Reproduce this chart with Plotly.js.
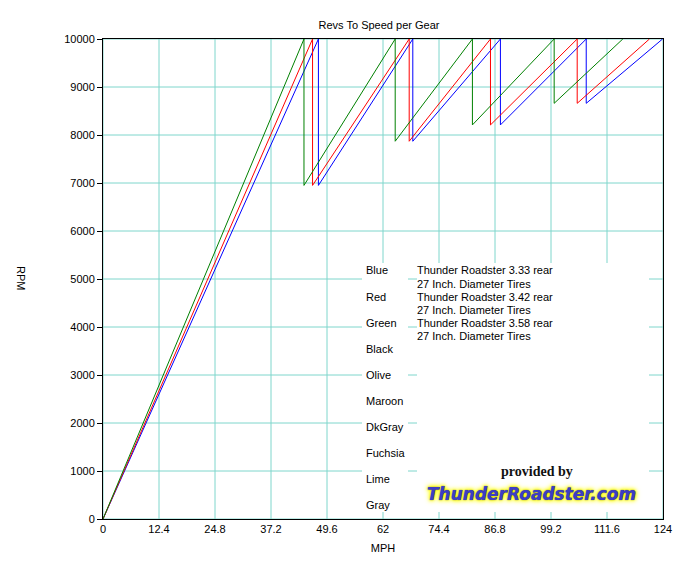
<!DOCTYPE html>
<html>
<head>
<meta charset="utf-8">
<script src="https://cdn.plot.ly/plotly-3.0.1.min.js"></script>
<style>html,body{margin:0;padding:0;background:#fff;}#chart{width:676px;height:571px;}</style>
</head>
<body>
<div id="chart"></div>
<script>
// ---- data (sawtooth vertices: MPH, RPM) ----
const blueMph  = [0, 47.7, 47.7, 68.6, 68.6, 88.0, 88.0, 107.0, 107.0, 123.9];
const blueRpm  = [0, 10000, 6950, 10000, 7870, 10000, 8210, 10000, 8660, 10000];
const redMph   = [0, 46.4, 46.4, 67.8, 67.8, 85.8, 85.8, 105.0, 105.0, 121.0];
const redRpm   = [0, 10000, 6950, 10000, 7870, 10000, 8210, 10000, 8660, 10000];
const greenMph = [0, 44.5, 44.5, 64.7, 64.7, 81.8, 81.8, 99.9, 99.9, 115.1];
const greenRpm = [0, 10000, 6950, 10000, 7870, 10000, 8210, 10000, 8660, 10000];

const xTicks = [0, 12.4, 24.8, 37.2, 49.6, 62, 74.4, 86.8, 99.2, 111.6, 124];
const xTickText = ["0", "12.4", "24.8", "37.2", "49.6", "62", "74.4", "86.8", "99.2", "111.6", "124"];
const yTicks = [0, 1000, 2000, 3000, 4000, 5000, 6000, 7000, 8000, 9000, 10000];
const yTickText = ["0", "1000", "2000", "3000", "4000", "5000", "6000", "7000", "8000", "9000", "10000"];

const colorNames = ["Blue", "Red", "Green", "Black", "Olive", "Maroon", "DkGray", "Fuchsia", "Lime", "Gray"];
const descLines = [
  "Thunder Roadster 3.33 rear", "27 Inch. Diameter Tires",
  "Thunder Roadster 3.42 rear", "27 Inch. Diameter Tires",
  "Thunder Roadster 3.58 rear", "27 Inch. Diameter Tires"
];

// ---- layout helpers (pixel -> paper) ----
const L = 103, R = 663, T = 39, B = 519;
const px = v => (v - L) / (R - L);
const py = v => (B - v) / (B - T);

const FONT = "Liberation Sans, Arial, sans-serif";
const GRID = "#7fd6cc";

const traces = [
  {x: blueMph, y: blueRpm, mode: "lines", line: {color: "#0000ff", width: 1}, name: "Blue"},
  {x: redMph, y: redRpm, mode: "lines", line: {color: "#ff0000", width: 1}, name: "Red"},
  {x: greenMph, y: greenRpm, mode: "lines", line: {color: "#008000", width: 1}, name: "Green"}
];

const annotations = [];
const rowY = [270, 297, 323, 349, 375, 401, 427, 453, 479, 505];
colorNames.forEach((n, i) => annotations.push({
  text: n, xref: "paper", yref: "paper", x: px(364), y: py(rowY[i]),
  xanchor: "left", yanchor: "middle", showarrow: false,
  font: {family: FONT, size: 11, color: "#000"}
}));
const descY = [270, 284, 297, 310, 323, 336];
descLines.forEach((t, i) => annotations.push({
  text: t, xref: "paper", yref: "paper", x: px(415), y: py(descY[i]),
  xanchor: "left", yanchor: "middle", showarrow: false,
  font: {family: FONT, size: 11, color: "#000"}
}));
annotations.push({
  text: "<b>provided by</b>", xref: "paper", yref: "paper", x: px(537), y: py(471),
  xanchor: "center", yanchor: "middle", showarrow: false,
  font: {family: "Liberation Serif, serif", size: 14, color: "#111"}
});
annotations.push({
  text: "ThunderRoadster.com", xref: "paper", yref: "paper", x: px(531), y: py(494),
  xanchor: "center", yanchor: "middle", showarrow: false,
  font: {family: "DejaVu Sans, sans-serif", size: 17, weight: 900, style: "italic", color: "#3d3dc4",
         shadow: "0 0 1px #202060, 0 0 3px #ffff00, 0 0 4px #ffff00, 0 0 5px #ffff40, 0 0 6px #ffff60"}
});
annotations.push({
  text: "RPM", xref: "paper", yref: "paper", x: px(21), y: py(278),
  xanchor: "center", yanchor: "middle", showarrow: false, textangle: 90,
  font: {family: FONT, size: 11, color: "#000"}
});

// grid lines drawn as shapes at the tick positions
const shapes = [];
xTicks.forEach(v => shapes.push({type: "line", xref: "x", yref: "paper", x0: v, x1: v, y0: 0, y1: 1,
  line: {color: GRID, width: 1}, layer: "below"}));
yTicks.forEach(v => shapes.push({type: "line", xref: "paper", yref: "y", x0: 0, x1: 1, y0: v, y1: v,
  line: {color: GRID, width: 1}, layer: "below"}));
// white boxes behind the text block
shapes.push(
  {type: "rect", xref: "paper", yref: "paper", x0: px(362), x1: px(408), y0: py(512), y1: py(263),
   fillcolor: "#ffffff", line: {width: 0}, layer: "above"},
  {type: "rect", xref: "paper", yref: "paper", x0: px(417), x1: px(649), y0: py(512), y1: py(263),
   fillcolor: "#ffffff", line: {width: 0}, layer: "above"}
);

const layout = {
  width: 676, height: 571,
  margin: {l: L, r: 676 - R, t: T, b: 571 - B, pad: 0},
  paper_bgcolor: "#ffffff", plot_bgcolor: "#ffffff",
  showlegend: false,
  font: {family: FONT, size: 11, color: "#000"},
  title: {text: "Revs To Speed per Gear", x: 379 / 676, xanchor: "center",
          y: 1 - 25 / 571, yanchor: "middle", yref: "container",
          font: {family: FONT, size: 11, color: "#000"}},
  xaxis: {
    range: [0, 124], tickmode: "array", tickvals: xTicks, ticktext: xTickText,
    showgrid: false, zeroline: false,
    showline: true, linecolor: "#000", linewidth: 1, mirror: true, ticks: "",
    tickfont: {family: FONT, size: 11, color: "#000"},
    title: {text: "MPH", standoff: 10, font: {family: FONT, size: 11, color: "#000"}},
    automargin: false, fixedrange: true
  },
  yaxis: {
    range: [0, 10000], tickmode: "array", tickvals: yTicks, ticktext: yTickText,
    showgrid: false, zeroline: false,
    showline: true, linecolor: "#000", linewidth: 1, mirror: true,
    ticks: "outside", ticklen: 5, tickcolor: "#000", tickwidth: 1,
    tickfont: {family: FONT, size: 11, color: "#000"},
    automargin: false, fixedrange: true
  },
  shapes: shapes,
  annotations: annotations
};

Plotly.newPlot("chart", traces, layout, {displayModeBar: false, staticPlot: true});
</script>
</body>
</html>
